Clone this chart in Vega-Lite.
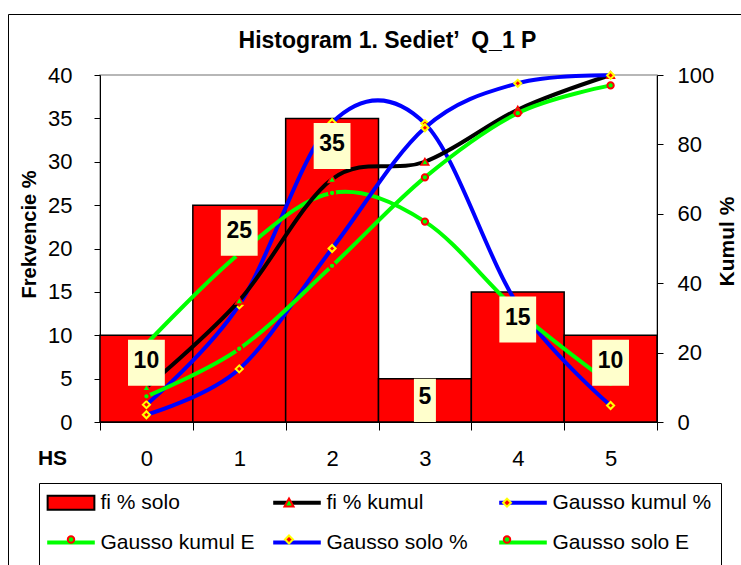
{
  "$schema": "https://vega.github.io/schema/vega-lite/v6.json",
  "width": 557,
  "height": 347,
  "autosize": {"type": "none"},
  "padding": {"left": 100, "top": 75, "right": 84, "bottom": 143},
  "background": "white",
  "title": {"text": "Histogram 1. Sediet’ \u00a0Q_1 P", "font": "Liberation Sans", "fontSize": 23, "fontWeight": "bold", "color": "black", "anchor": "middle", "frame": "group", "dx": 9, "offset": -39},
  "datasets": {
    "bars": [
      {"HS": "0", "fi": 10}, {"HS": "1", "fi": 25}, {"HS": "2", "fi": 35},
      {"HS": "3", "fi": 5}, {"HS": "4", "fi": 15}, {"HS": "5", "fi": 10}
    ],
    "s": [
      {"HS": "0", "series": "fi % kumul", "value": 10},
      {"HS": "1", "series": "fi % kumul", "value": 35},
      {"HS": "2", "series": "fi % kumul", "value": 70},
      {"HS": "3", "series": "fi % kumul", "value": 75},
      {"HS": "4", "series": "fi % kumul", "value": 90},
      {"HS": "5", "series": "fi % kumul", "value": 100},
      {"HS": "0", "series": "Gausso kumul %", "value": 2.1},
      {"HS": "1", "series": "Gausso kumul %", "value": 15.3},
      {"HS": "2", "series": "Gausso kumul %", "value": 50},
      {"HS": "3", "series": "Gausso kumul %", "value": 84.8},
      {"HS": "4", "series": "Gausso kumul %", "value": 97.6},
      {"HS": "5", "series": "Gausso kumul %", "value": 99.9},
      {"HS": "0", "series": "Gausso kumul E", "value": 7.4},
      {"HS": "1", "series": "Gausso kumul E", "value": 21.1},
      {"HS": "2", "series": "Gausso kumul E", "value": 45},
      {"HS": "3", "series": "Gausso kumul E", "value": 70.5},
      {"HS": "4", "series": "Gausso kumul E", "value": 89},
      {"HS": "5", "series": "Gausso kumul E", "value": 97},
      {"HS": "0", "series": "Gausso solo %", "value": 2.0},
      {"HS": "1", "series": "Gausso solo %", "value": 13.5},
      {"HS": "2", "series": "Gausso solo %", "value": 34.5},
      {"HS": "3", "series": "Gausso solo %", "value": 34.4},
      {"HS": "4", "series": "Gausso solo %", "value": 13.5},
      {"HS": "5", "series": "Gausso solo %", "value": 1.9},
      {"HS": "0", "series": "Gausso solo E", "value": 9.0},
      {"HS": "1", "series": "Gausso solo E", "value": 19.4},
      {"HS": "2", "series": "Gausso solo E", "value": 26.4},
      {"HS": "3", "series": "Gausso solo E", "value": 23.1},
      {"HS": "4", "series": "Gausso solo E", "value": 12.8},
      {"HS": "5", "series": "Gausso solo E", "value": 4.4}
    ]
  },
  "layer": [
    {
      "layer": [
        {
          "data": {"name": "bars"},
          "mark": {"type": "bar", "fill": "#FF0000", "stroke": "black", "strokeWidth": 1.5},
          "encoding": {
            "x": {"field": "HS", "type": "nominal", "sort": null, "scale": {"paddingInner": 0, "paddingOuter": 0},
              "axis": {"title": "HS", "titleX": -48, "titleY": 36, "titleFontSize": 21, "titleFontWeight": "bold", "titleBaseline": "middle", "titleAlign": "center", "titleAngle": 0, "labelAngle": 0, "labelFontSize": 22, "labelBaseline": "middle", "labelPadding": 28, "tickBand": "extent", "tickSize": 8}},
            "y": {"field": "fi", "type": "quantitative", "scale": {"domain": [0, 40], "nice": false},
              "axis": {"orient": "left", "values": [0, 5, 10, 15, 20, 25, 30, 35, 40], "title": "Frekvencie %", "titleFontSize": 20, "titleFontWeight": "bold", "titleX": -71, "titleY": 159, "titleBaseline": "middle", "titleAlign": "center", "labelFontSize": 22, "labelPadding": 22, "tickSize": 6, "labelOverlap": false}},
            "opacity": {"datum": "b", "type": "ordinal", "scale": {"domain": ["b"], "range": [1, 1]},
              "legend": {"orient": "none", "legendX": -92, "legendY": -61, "title": null, "padding": 700, "strokeColor": "black", "symbolOpacity": 0, "labelOpacity": 0, "labelExpr": "''"}}
          }
        },
        {
          "data": {"name": "s"},
          "transform": [{"filter": {"field": "series", "oneOf": ["Gausso solo %", "Gausso solo E"]}}],
          "mark": {"type": "line", "interpolate": "cardinal", "tension": 0, "strokeWidth": 4},
          "encoding": {
            "x": {"field": "HS", "type": "nominal", "sort": null},
            "y": {"field": "value", "type": "quantitative"},
            "stroke": {"field": "series", "type": "nominal",
              "scale": {"domain": ["fi % solo", "fi % kumul", "Gausso kumul %", "Gausso kumul E", "Gausso solo %", "Gausso solo E"], "range": ["transparent", "#000000", "#0000FF", "#00FF00", "#0000FF", "#00FF00"]}}
          }
        },
        {
          "data": {"name": "s"},
          "transform": [{"filter": {"field": "series", "equal": "Gausso solo %"}}],
          "mark": {"type": "point", "shape": "diamond", "filled": true, "fill": "#FF0000", "stroke": "#FFFF00", "strokeWidth": 2, "size": 50, "opacity": 1},
          "encoding": {
            "x": {"field": "HS", "type": "nominal", "sort": null},
            "y": {"field": "value", "type": "quantitative"}
          }
        },
        {
          "data": {"name": "s"},
          "transform": [{"filter": {"field": "series", "equal": "Gausso solo E"}}],
          "mark": {"type": "point", "shape": "circle", "filled": true, "fill": "#00FF00", "stroke": "#FF0000", "strokeWidth": 2, "size": 40, "opacity": 1},
          "encoding": {
            "x": {"field": "HS", "type": "nominal", "sort": null},
            "y": {"field": "value", "type": "quantitative"}
          }
        },
        {
          "data": {"name": "s"},
          "mark": {"type": "point", "opacity": 0, "size": 0},
          "encoding": {
            "stroke": {"field": "series", "type": "nominal",
              "scale": {"domain": ["fi % solo", "fi % kumul", "Gausso kumul %", "Gausso kumul E", "Gausso solo %", "Gausso solo E"], "range": ["transparent", "#000000", "#0000FF", "#00FF00", "#0000FF", "#00FF00"]},
              "legend": {"orient": "none", "direction": "horizontal", "legendX": -61, "legendY": 408, "title": null, "columns": 3, "gridAlign": "all", "columnPadding": 5, "rowPadding": 13,
                "symbolSize": 289, "symbolStrokeWidth": 4, "symbolOffset": 12.5, "symbolOpacity": 1, "labelOffset": 19, "labelFontSize": 21, "labelFont": "Liberation Sans", "labelColor": "black", "labelLimit": 400,
                "padding": 9, "strokeColor": "black", "fillColor": "white"}},
            "fill": {"field": "series", "type": "nominal",
              "scale": {"domain": ["fi % solo", "fi % kumul", "Gausso kumul %", "Gausso kumul E", "Gausso solo %", "Gausso solo E"], "range": ["#FF0000", "transparent", "transparent", "transparent", "transparent", "transparent"]},
              "legend": {"orient": "none", "direction": "horizontal", "legendX": -61, "legendY": 408, "title": null, "columns": 3, "gridAlign": "all", "columnPadding": 5, "rowPadding": 13,
                "symbolSize": 289, "symbolStrokeWidth": 4, "symbolOffset": 12.5, "symbolOpacity": 1, "labelOffset": 19, "labelFontSize": 21, "labelFont": "Liberation Sans", "labelColor": "black", "labelLimit": 400,
                "padding": 9, "strokeColor": "black", "fillColor": "white"}},
            "shape": {"field": "series", "type": "nominal",
              "scale": {"domain": ["fi % solo", "fi % kumul", "Gausso kumul %", "Gausso kumul E", "Gausso solo %", "Gausso solo E"], "range": [
                "M -2.75 -0.824 L 2.75 -0.824 L 2.75 0.824 L -2.75 0.824 Z M 21 0 L 21 0 M 0 0.84 L 0 0.84",
                "M -2.8 0 L 2.8 0 M 21 0 L 21 0 M 0 0.84 L 0 0.84",
                "M -2.8 0 L 2.8 0 M 21 0 L 21 0 M 0 0.84 L 0 0.84",
                "M -2.8 0 L 2.8 0 M 21 0 L 21 0 M 0 0.84 L 0 0.84",
                "M -2.8 0 L 2.8 0 M 21 0 L 21 0 M 0 0.84 L 0 0.84",
                "M -2.8 0 L 2.8 0 M 21 0 L 21 0 M 0 0.84 L 0 0.84"]},
              "legend": {"orient": "none", "direction": "horizontal", "legendX": -61, "legendY": 408, "title": null, "columns": 3, "gridAlign": "all", "columnPadding": 5, "rowPadding": 13,
                "symbolSize": 289, "symbolStrokeWidth": 4, "symbolOffset": 12.5, "symbolOpacity": 1, "labelOffset": 19, "labelFontSize": 21, "labelFont": "Liberation Sans", "labelColor": "black", "labelLimit": 400,
                "padding": 9, "strokeColor": "black", "fillColor": "white"}}
          }
        }
      ]
    },
    {
      "data": {"name": "s"},
      "encoding": {
        "x": {"field": "HS", "type": "nominal", "sort": null},
        "y": {"field": "value", "type": "quantitative", "scale": {"domain": [0, 100], "nice": false},
          "axis": {"orient": "right", "values": [0, 10, 20, 30, 40, 50, 60, 70, 80, 90, 100], "tickCount": 10, "title": "Kumul %", "titleAngle": -90, "titleFontSize": 21, "titleFontWeight": "bold", "titleX": 70, "titleY": 166, "titleBaseline": "middle", "titleAlign": "center", "labelFontSize": 22, "labelPadding": 14, "tickSize": 6, "labelOverlap": false, "labelSeparation": 0}}
      },
      "layer": [
        {
          "transform": [{"filter": {"field": "series", "oneOf": ["fi % kumul", "Gausso kumul %", "Gausso kumul E"]}}],
          "mark": {"type": "line", "interpolate": "cardinal", "tension": 0, "strokeWidth": 4},
          "encoding": {
            "stroke": {"field": "series", "type": "nominal",
              "scale": {"domain": ["fi % solo", "fi % kumul", "Gausso kumul %", "Gausso kumul E", "Gausso solo %", "Gausso solo E"], "range": ["#000000", "#000000", "#0000FF", "#00FF00", "#0000FF", "#00FF00"]},
              "legend": null}
          }
        },
        {
          "transform": [{"filter": {"field": "series", "equal": "fi % kumul"}}],
          "mark": {"type": "point", "shape": "triangle-up", "filled": true, "fill": "#00FF00", "stroke": "#FF0000", "strokeWidth": 1.5, "size": 60, "opacity": 1}
        },
        {
          "transform": [{"filter": {"field": "series", "equal": "Gausso kumul %"}}],
          "mark": {"type": "point", "shape": "diamond", "filled": true, "fill": "#FF0000", "stroke": "#FFFF00", "strokeWidth": 2, "size": 50, "opacity": 1}
        },
        {
          "transform": [{"filter": {"field": "series", "equal": "Gausso kumul E"}}],
          "mark": {"type": "point", "shape": "circle", "filled": true, "fill": "#00FF00", "stroke": "#FF0000", "strokeWidth": 2, "size": 40, "opacity": 1}
        }
      ]
    },
    {
      "data": {"name": "bars"},
      "encoding": {
        "x": {"field": "HS", "type": "nominal", "sort": null},
        "y": {"field": "fi", "type": "quantitative", "scale": {"domain": [0, 40], "nice": false}, "axis": null}
      },
      "layer": [
        {
          "transform": [{"filter": "datum.HS !== '3'"}],
          "mark": {"type": "point", "filled": true, "fill": "#FFFFCC", "strokeWidth": 0, "opacity": 1, "size": 2116, "shape": "M -0.8 -1 L 0.8 -1 L 0.8 1 L -0.8 1 Z", "yOffset": 27.5}
        },
        {
          "transform": [{"filter": "datum.HS === '3'"}],
          "mark": {"type": "point", "filled": true, "fill": "#FFFFCC", "strokeWidth": 0, "opacity": 1, "size": 2116, "shape": "M -0.478 -1 L 0.478 -1 L 0.478 1 L -0.478 1 Z", "yOffset": 23, "clip": true}
        },
        {
          "transform": [{"filter": "datum.HS !== '3'"}],
          "mark": {"type": "text", "font": "Liberation Sans", "fontSize": 23, "fontWeight": "bold", "color": "black", "baseline": "middle", "yOffset": 26},
          "encoding": {"text": {"field": "fi", "type": "quantitative"}}
        },
        {
          "transform": [{"filter": "datum.HS === '3'"}],
          "mark": {"type": "text", "font": "Liberation Sans", "fontSize": 23, "fontWeight": "bold", "color": "black", "baseline": "middle", "yOffset": 18},
          "encoding": {"text": {"field": "fi", "type": "quantitative"}}
        }
      ]
    },
    {
      "data": {"name": "s"},
      "mark": {"type": "point", "opacity": 0, "size": 0},
      "encoding": {
        "stroke": {"field": "series", "type": "nominal",
          "scale": {"domain": ["fi % solo", "fi % kumul", "Gausso kumul %", "Gausso kumul E", "Gausso solo %", "Gausso solo E"], "range": ["#000000", "#FF0000", "#FFFF00", "#FF0000", "#FFFF00", "#FF0000"]},
          "legend": {"orient": "none", "direction": "horizontal", "legendX": -61, "legendY": 408, "title": null, "columns": 3, "gridAlign": "all", "columnPadding": 7, "rowPadding": 14,
            "symbolSize": 289, "symbolStrokeWidth": 2, "symbolOffset": 12.5, "symbolOpacity": 1, "labelOffset": 19, "labelFontSize": 21, "labelFont": "Liberation Sans", "labelExpr": "''",
            "padding": 9}},
        "fill": {"field": "series", "type": "nominal",
          "scale": {"domain": ["fi % solo", "fi % kumul", "Gausso kumul %", "Gausso kumul E", "Gausso solo %", "Gausso solo E"], "range": ["transparent", "#00FF00", "#FF0000", "#00FF00", "#FF0000", "#00FF00"]},
          "legend": {"orient": "none", "direction": "horizontal", "legendX": -61, "legendY": 408, "title": null, "columns": 3, "gridAlign": "all", "columnPadding": 7, "rowPadding": 14,
            "symbolSize": 289, "symbolStrokeWidth": 2, "symbolOffset": 12.5, "symbolOpacity": 1, "labelOffset": 19, "labelFontSize": 21, "labelFont": "Liberation Sans", "labelExpr": "''",
            "padding": 9}},
        "shape": {"field": "series", "type": "nominal",
          "scale": {"domain": ["fi % solo", "fi % kumul", "Gausso kumul %", "Gausso kumul E", "Gausso solo %", "Gausso solo E"], "range": [
            "M -2.75 -0.824 L 2.75 -0.824 L 2.75 0.824 L -2.75 0.824 Z M -2.8 0 L -2.8 0 M 21 0 L 21 0 M 0 0.84 L 0 0.84",
            "M -2.8 0 L -2.8 0 M 21 0 L 21 0 M 0 0.84 L 0 0.84 M 0 -0.5 L 0.53 0.44 L -0.53 0.44 Z",
            "M -2.8 0 L -2.8 0 M 21 0 L 21 0 M 0 0.84 L 0 0.84 M 0 -0.47 L 0.47 0 L 0 0.47 L -0.47 0 Z",
            "M -2.8 0 L -2.8 0 M 21 0 L 21 0 M 0 0.84 L 0 0.84 M -0.38 0 A 0.38 0.38 0 1 1 0.38 0 A 0.38 0.38 0 1 1 -0.38 0 Z",
            "M -2.8 0 L -2.8 0 M 21 0 L 21 0 M 0 0.84 L 0 0.84 M 0 -0.47 L 0.47 0 L 0 0.47 L -0.47 0 Z",
            "M -2.8 0 L -2.8 0 M 21 0 L 21 0 M 0 0.84 L 0 0.84 M -0.38 0 A 0.38 0.38 0 1 1 0.38 0 A 0.38 0.38 0 1 1 -0.38 0 Z"]},
          "legend": {"orient": "none", "direction": "horizontal", "legendX": -61, "legendY": 408, "title": null, "columns": 3, "gridAlign": "all", "columnPadding": 7, "rowPadding": 14,
            "symbolSize": 289, "symbolStrokeWidth": 2, "symbolOffset": 12.5, "symbolOpacity": 1, "labelOffset": 19, "labelFontSize": 21, "labelFont": "Liberation Sans", "labelExpr": "''",
            "padding": 9}}
      }
    }
  ],
  "resolve": {"scale": {"y": "independent", "stroke": "independent", "fill": "independent", "shape": "independent"}},
  "config": {
    "view": {"fill": "#FFFFCC", "stroke": "#A0A0A0", "strokeWidth": 1.5},
    "font": "Liberation Sans",
    "axis": {"domainColor": "black", "tickColor": "black", "labelColor": "black", "titleColor": "black", "grid": false, "labelFont": "Liberation Sans", "titleFont": "Liberation Sans", "domainWidth": 1, "tickWidth": 1, "labelOverlap": false},
    "axisQuantitative": {"labelOverlap": false}
  }
}
